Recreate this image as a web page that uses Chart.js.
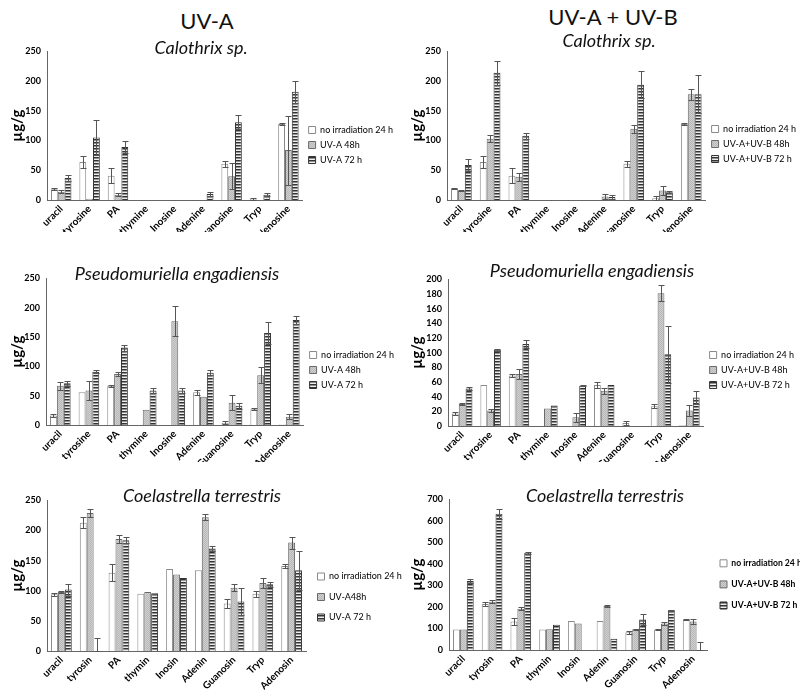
<!DOCTYPE html>
<html>
<head>
<meta charset="utf-8">
<script src="https://cdn.jsdelivr.net/npm/chart.js@4.4.1/dist/chart.umd.min.js"></script>
<style>
  body { margin: 0; background: #fff; width: 800px; height: 695px; position: relative; overflow: hidden; font-family: Lato, sans-serif; }
  .panel { position: absolute; overflow: hidden; }
  .panel canvas { position: absolute; left: 0; top: 0; }
  .head { position: absolute; transform: translate(-50%, -50%); white-space: nowrap; font-size: 22px; color: #111; z-index: 5; }
  .species { position: absolute; transform: translate(-50%, -50%); white-space: nowrap; font-size: 18px; font-style: italic; color: #111; z-index: 5; }
</style>
</head>
<body>
<div class="head" style="left:207px; top:20px;">UV-A</div>
<div class="head" style="left:613px; top:16px;">UV-A + UV-B</div>
<div class="species" style="left:201px; top:47px;">Calothrix sp.</div>
<div class="species" style="left:609px; top:40px;">Calothrix sp.</div>
<div class="species" style="left:177px; top:273px;">Pseudomuriella engadiensis</div>
<div class="species" style="left:592px; top:270px;">Pseudomuriella engadiensis</div>
<div class="species" style="left:202px; top:495px;">Coelastrella terrestris</div>
<div class="species" style="left:605px; top:495px;">Coelastrella terrestris</div>

<script>
// categories
const catsLong = ['uracil', 'tyrosine', 'PA', 'thymine', 'Inosine', 'Adenine', 'Guanosine', 'Tryp', 'Adenosine'];
const catsShort = ['uracil', 'tyrosin', 'PA', 'thymin', 'Inosin', 'Adenin', 'Guanosin', 'Tryp', 'Adenosin'];

// legend texts
const seriesUVA = ['no irradiation 24 h', 'UV-A 48h', 'UV-A 72 h'];
const seriesUVA2 = ['no irradiation 24 h', 'UV-A48h', 'UV-A 72 h'];
const seriesUVB = ['no irradiation 24 h', 'UV-A+UV-B 48h', 'UV-A+UV-B 72 h'];

// Calothrix sp. - UV-A
const calA24 = [18, 64, 41, 0, 0, 0, 61, 2, 128];
const calA24err = [2, 10, 13, 0, 0, 0, 5, 2, 2];
const calA48 = [14, 2, 9, 0, 0, 0, 40, 0, 84];
const calA48err = [2, 0, 3, 0, 0, 0, 22, 0, 58];
const calA72 = [37, 105, 89, 0, 0, 10, 131, 9, 182];
const calA72err = [5, 30, 10, 0, 0, 3, 12, 2, 19];

// Calothrix sp. - UV-A + UV-B
const calB24 = [19, 64, 41, 0, 0, 0, 61, 3, 128];
const calB24err = [1, 10, 13, 0, 0, 0, 5, 3, 2];
const calB48 = [16, 103, 39, 0, 0, 6, 120, 16, 178];
const calB48err = [1, 6, 7, 0, 0, 4, 7, 7, 9];
const calB72 = [59, 214, 108, 0, 0, 5, 194, 13, 178];
const calB72err = [10, 20, 5, 0, 0, 3, 23, 2, 32];

// Pseudomuriella engadiensis - UV-A
const psA24 = [16, 56, 67, 0, 0, 56, 4, 27, 1];
const psA24err = [2, 0, 2, 0, 0, 4, 2, 2, 0];
const psA48 = [67, 59, 87, 26, 177, 48, 38, 85, 14];
const psA48err = [7, 16, 3, 0, 26, 0, 13, 14, 4];
const psA72 = [71, 91, 132, 59, 59, 89, 33, 157, 179];
const psA72err = [4, 3, 5, 4, 4, 4, 5, 19, 7];

// Pseudomuriella engadiensis - UV-A + UV-B
const psB24 = [17, 56, 69, 0.5, 0, 56, 4, 27, 1];
const psB24err = [2, 0, 2, 0, 0, 4, 3, 3, 0];
const psB48 = [30, 21, 71, 24, 12, 48, 0, 181, 21];
const psB48err = [1, 2, 7, 0, 6, 4, 0, 11, 8];
const psB72 = [51, 104, 112, 28, 55, 56, 0, 98, 39];
const psB72err = [2, 1, 6, 0, 1, 0, 0, 39, 9];

// Coelastrella terrestris - UV-A
const coA24 = [94, 213, 130, 95, 136, 134, 79, 95, 141];
const coA24err = [2, 9, 14, 0, 0, 0, 7, 5, 3];
const coA48 = [98, 229, 186, 98, 127, 222, 105, 113, 180];
const coA48err = [1, 6, 7, 0, 0, 5, 6, 8, 10];
const coA72 = [102, 0, 184, 96, 121, 170, 82, 111, 134];
const coA72err = [10, 22, 5, 0, 0, 4, 22, 4, 32];

// Coelastrella terrestris - UV-A + UV-B
const coB24 = [95, 214, 132, 95, 135, 135, 82, 95, 141];
const coB24err = [0, 9, 18, 0, 0, 0, 6, 3, 2];
const coB48 = [95, 224, 192, 97, 123, 205, 97, 123, 132];
const coB48err = [0, 7, 8, 0, 0, 3, 2, 7, 10];
const coB72 = [321, 633, 452, 117, 0, 52, 142, 185, 0];
const coB72err = [9, 24, 4, 0, 0, 0, 26, 3, 35];

// error bars drawn on top of the bars
const errorBars = {
  id: 'errorBars',
  afterDatasetsDraw(chart) {
    const ctx = chart.ctx;
    const y = chart.scales.y;
    chart.data.datasets.forEach((ds, i) => {
      const meta = chart.getDatasetMeta(i);
      meta.data.forEach((bar, j) => {
        const e = ds.errors[j];
        if (!e) return;
        const v = ds.data[j];
        const top = Math.round(y.getPixelForValue(v + e)) + 0.5;
        const bot = Math.round(y.getPixelForValue(Math.max(0, v - e))) + 0.5;
        const x = Math.round(bar.x) + 0.5;
        const half = 3;
        ctx.save();
        ctx.strokeStyle = '#555';
        ctx.lineWidth = 1;
        ctx.beginPath();
        ctx.moveTo(x, top); ctx.lineTo(x, bot);
        ctx.moveTo(x - half, top); ctx.lineTo(x + half, top);
        ctx.moveTo(x - half, bot); ctx.lineTo(x + half, bot);
        ctx.stroke();
        ctx.restore();
      });
    });
  }
};

function makePatterns(ctx) {
  const s = document.createElement('canvas');
  s.width = 4; s.height = 3;
  const g = s.getContext('2d');
  g.fillStyle = '#eeeeee'; g.fillRect(0, 0, 4, 3);
  g.fillStyle = '#333333'; g.fillRect(0, 0, 4, 1);
  g.fillStyle = '#8f8f8f'; g.fillRect(0, 1, 4, 1);

  const d = document.createElement('canvas');
  d.width = 2; d.height = 2;
  const h = d.getContext('2d');
  h.fillStyle = '#cfcfcf'; h.fillRect(0, 0, 2, 2);
  h.fillStyle = '#b8b8b8'; h.fillRect(0, 0, 1, 1); h.fillRect(1, 1, 1, 1);

  return { stripes: ctx.createPattern(s, 'repeat'), dots: ctx.createPattern(d, 'repeat') };
}

// lift: extra space above the legend entries (only used when the legend is top-aligned)
const panels = [
  { left: 0, top: 40, w: 403, h: 202, clip: 192, xH: 42, yW: 47, max: 250, step: 50, cats: catsLong, names: seriesUVA,
    vals: [calA24, calA48, calA72], errs: [calA24err, calA48err, calA72err], legPad: 6, bold: false, lift: 0, fs: 9 },
  { left: 400, top: 40, w: 406, h: 200, clip: 192, xH: 40, yW: 47, max: 250, step: 50, cats: catsLong, names: seriesUVB,
    vals: [calB24, calB48, calB72], errs: [calB24err, calB48err, calB72err], legPad: 6, bold: false, lift: 0, fs: 9 },
  { left: 0, top: 267, w: 404, h: 198, clip: 195, xH: 40, yW: 46, max: 250, step: 50, cats: catsLong, names: seriesUVA,
    vals: [psA24, psA48, psA72], errs: [psA24err, psA48err, psA72err], legPad: 6, bold: false, lift: 0, fs: 9 },
  { left: 400, top: 268, w: 404, h: 196, clip: 194, xH: 38, yW: 48, max: 200, step: 20, cats: catsLong, names: seriesUVB,
    vals: [psB24, psB48, psB72], errs: [psB24err, psB48err, psB72err], legPad: 6, bold: false, lift: 0, fs: 9 },
  { left: 0, top: 489, w: 408, h: 208, clip: 206, xH: 46, yW: 47, max: 250, step: 50, cats: catsShort, names: seriesUVA2,
    vals: [coA24, coA48, coA72], errs: [coA24err, coA48err, coA72err], legPad: 11.5, bold: false, lift: 0, fs: 9 },
  { left: 400, top: 488, w: 410, h: 207, clip: 207, xH: 45, yW: 49, max: 700, step: 100, cats: catsShort, names: seriesUVB,
    vals: [coB24, coB48, coB72], errs: [coB24err, coB48err, coB72err], legPad: 12.5, bold: true, lift: 38.5, fs: 8.6 }
];

panels.forEach(p => {
  const wrap = document.createElement('div');
  wrap.className = 'panel';
  wrap.style.left = p.left + 'px';
  wrap.style.top = p.top + 'px';
  wrap.style.width = p.w + 'px';
  wrap.style.height = p.clip + 'px';
  const cv = document.createElement('canvas');
  cv.width = p.w;
  cv.height = p.h;
  wrap.appendChild(cv);
  document.body.appendChild(wrap);

  const pat = makePatterns(cv.getContext('2d'));
  const fills = ['#ffffff', pat.dots, pat.stripes];
  const borders = ['#8a8a8a', '#6a6a6a', '#333333'];

  new Chart(cv, {
    type: 'bar',
    data: {
      labels: p.cats,
      datasets: p.vals.map((v, i) => ({
        label: p.names[i],
        data: v,
        errors: p.errs[i],
        backgroundColor: fills[i],
        borderColor: borders[i],
        borderWidth: 1,
        categoryPercentage: 0.72,
        barPercentage: 1.0
      }))
    },
    options: {
      responsive: false,
      animation: false,
      layout: { padding: { top: 8, bottom: 0, left: 0, right: 0 } },
      scales: {
        x: {
          grid: { display: false, drawTicks: false },
          border: { display: true, color: '#666' },
          ticks: { color: '#000', autoSkip: false, minRotation: 45, maxRotation: 45, padding: 3,
                   font: { family: 'Lato', size: 10, weight: 'bold' } },
          afterFit: s => { s.height = p.xH; }
        },
        y: {
          min: 0, max: p.max,
          grid: { display: false, drawTicks: false },
          border: { display: true, color: '#666' },
          ticks: { stepSize: p.step, color: '#000', padding: 6,
                   font: { family: 'Lato', size: 9, weight: 'bold' } },
          title: { display: true, text: 'µg/g', color: '#000', padding: { top: 8, bottom: 0 },
                   font: { family: 'Lato', size: 15, weight: 'bold' } },
          afterFit: s => { s.width = p.yW; }
        }
      },
      plugins: {
        legend: {
          position: 'right',
          align: p.lift ? 'start' : 'center',
          title: { display: p.lift > 0, text: ' ', padding: { top: 0, bottom: p.lift }, font: { size: 10 } },
          labels: { boxWidth: 7, boxHeight: 7, padding: p.legPad, color: '#000',
                    font: { family: 'Lato', size: p.fs, weight: p.bold ? 'bold' : 'normal' } }
        },
        tooltip: { enabled: false }
      }
    },
    plugins: [errorBars]
  });
});
</script>
</body>
</html>
